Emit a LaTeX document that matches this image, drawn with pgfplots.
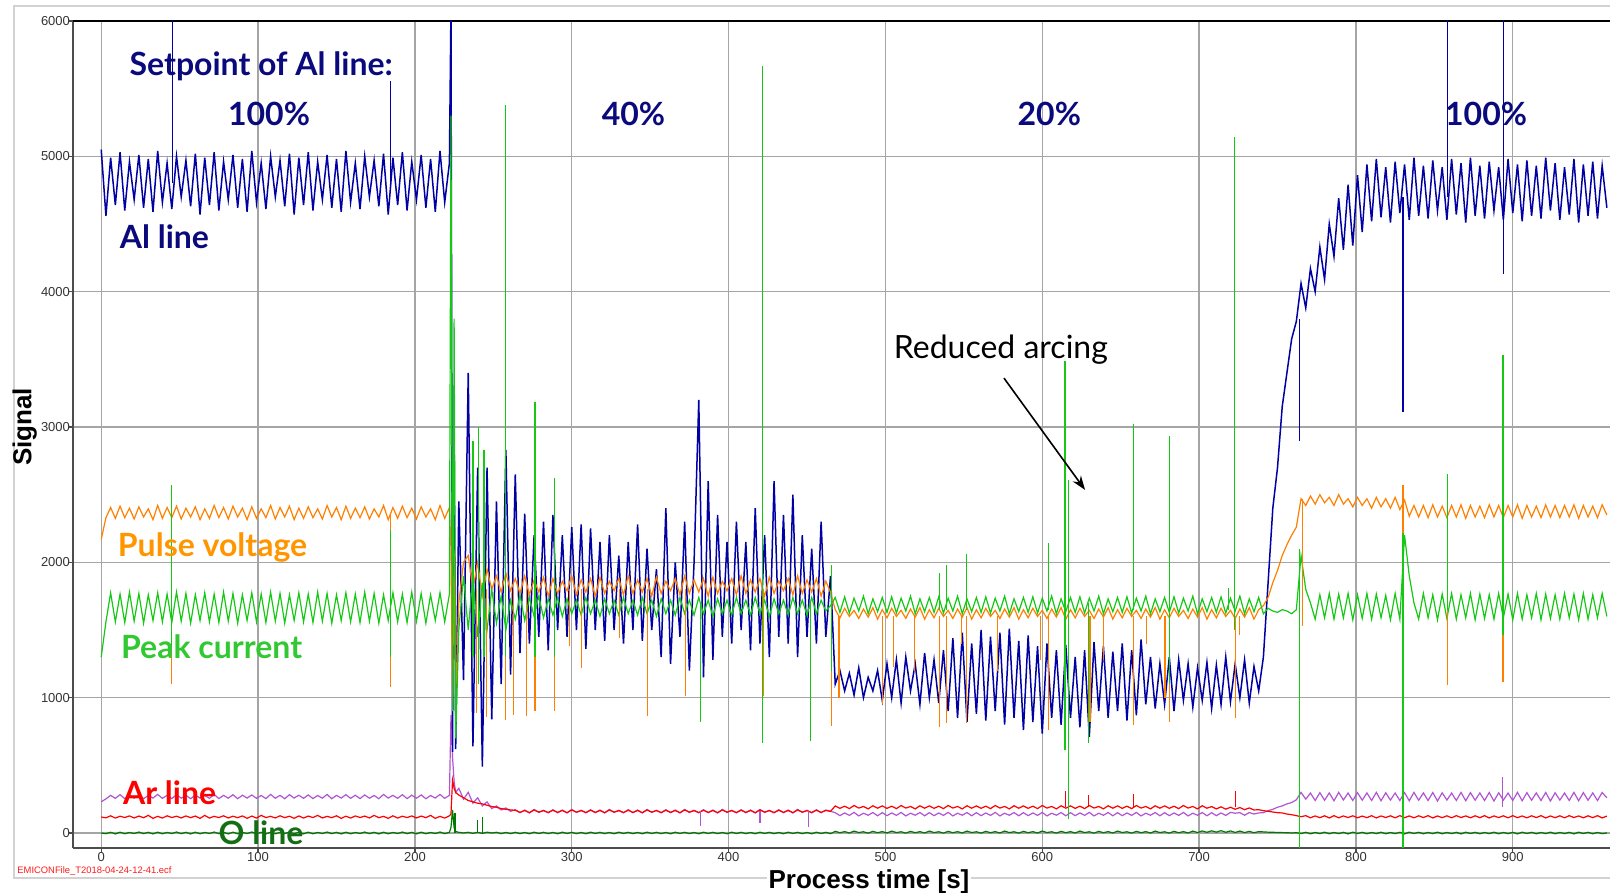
\documentclass[border=0pt]{standalone}
\usepackage{fontspec}
\setmainfont{Liberation Sans}
\newfontfamily\gill{Lato}
\usepackage{pgfplots}
\pgfplotsset{compat=1.18}
\usepackage{pgfplotstable}
\usetikzlibrary{arrows.meta}

\definecolor{alblue}{RGB}{0,0,165}
\definecolor{altext}{RGB}{10,10,125}
\definecolor{pvorange}{RGB}{255,128,0}
\definecolor{pvtext}{RGB}{255,150,0}
\definecolor{pcgreen}{RGB}{20,200,20}
\definecolor{pctext}{RGB}{50,200,50}
\definecolor{arred}{RGB}{255,0,0}
\definecolor{pupurple}{RGB}{175,85,210}
\definecolor{ogreen}{RGB}{0,120,0}
\definecolor{otext}{RGB}{20,110,20}
\definecolor{gridgray}{RGB}{165,165,165}

\pgfplotstableread{
t al pv pc ar pu ox
0 5050 2170 1300 118 230 0
3 4560 2330 1560 112 252 -5
6 4990 2405 1775 127 278 5
9 4640 2325 1560 110 256 -7
12 5030 2415 1765 124 283 6
15 4600 2330 1555 114 254 -6
18 4960 2400 1780 126 279 4
21 4680 2320 1565 111 257 -4
24 5010 2410 1770 125 281 7
27 4620 2335 1550 113 253 -5
30 4980 2395 1760 130 277 5
33 4590 2315 1570 108 258 -7
36 5040 2420 1775 123 285 6
39 4660 2325 1560 110 256 -6
42 4950 2405 1765 127 278 4
45 4610 2330 1555 114 254 -4
48 5000 2415 1780 124 283 7
51 4700 2320 1565 111 257 -5
54 4970 2400 1770 126 279 5
57 4630 2335 1550 113 253 -7
60 5020 2410 1760 125 281 6
63 4570 2315 1570 108 258 -6
66 4990 2395 1775 130 277 4
69 4640 2325 1560 110 256 -4
72 5030 2420 1765 123 285 7
75 4600 2330 1555 114 254 -5
78 4960 2405 1780 127 278 5
81 4680 2320 1565 111 257 -7
84 5010 2415 1770 124 283 6
87 4620 2335 1550 113 253 -6
90 4980 2400 1760 126 279 4
93 4590 2315 1570 108 258 -4
96 5040 2410 1775 125 281 7
99 4660 2325 1560 110 256 -5
102 4950 2395 1765 130 277 5
105 4610 2330 1555 114 254 -7
108 5000 2420 1780 123 285 6
111 4700 2320 1565 111 257 -6
114 4970 2405 1770 127 278 4
117 4630 2335 1550 113 253 -4
120 5020 2415 1760 124 283 7
123 4570 2315 1570 108 258 -5
126 4990 2400 1775 126 279 5
129 4640 2325 1560 110 256 -7
132 5030 2410 1765 125 281 6
135 4600 2330 1555 114 254 -6
138 4960 2395 1780 130 277 4
141 4680 2320 1565 111 257 -4
144 5010 2420 1770 123 285 7
147 4620 2335 1550 113 253 -5
150 4980 2405 1760 127 278 5
153 4590 2315 1570 108 258 -7
156 5040 2415 1775 124 283 6
159 4660 2325 1560 110 256 -6
162 4950 2400 1765 126 279 4
165 4610 2330 1555 114 254 -4
168 5000 2410 1780 125 281 7
171 4700 2320 1565 111 257 -5
174 4970 2395 1770 130 277 5
177 4630 2335 1550 113 253 -7
180 5020 2420 1760 123 285 6
183 4570 2315 1570 108 258 -6
186 4990 2405 1775 127 278 4
189 4640 2325 1560 110 256 -4
192 5030 2415 1765 124 283 7
195 4600 2330 1555 114 254 -5
198 4960 2400 1780 126 279 5
201 4680 2320 1565 111 257 -7
204 5010 2410 1770 125 281 6
207 4620 2335 1550 113 253 -6
210 4980 2395 1760 130 277 4
213 4590 2315 1570 108 258 -4
216 5040 2420 1775 123 285 7
219 4660 2325 1560 110 256 -5
222 4950 2405 1765 127 278 5
223 6100 2100 5300 140 870 40
224 600 950 900 391 560 170
225 3000 2090 3800 330 380 40
226 620 1000 700 300 300 10
228 2450 1700 1500 280 330 5
231 1130 2000 1900 260 250 0
234 3400 2050 1500 240 300 5
237 640 1800 1900 230 220 -3
240 2700 2000 1450 220 260 5
243 490 1750 1850 215 200 -3
246 2700 1950 1500 205 230 6
249 840 1800 1800 195 180 0
252 2450 1900 1550 190 200 5
255 1100 1780 1750 180 170 -5
258 2830 1920 1500 175 185 4
261 1170 1790 1720 170 160 -5
264 2650 1880 1580 168 172 5
267 1330 1770 1760 152 150 -5
270 2360 1900 1570 166 170 4
273 1400 1760 1740 150 148 -6
276 2200 1870 1600 170 174 6
279 1450 1780 1750 154 152 -4
282 2300 1890 1590 165 168 5
285 1350 1750 1730 151 149 -5
288 2350 1880 1610 168 172 4
291 1500 1770 1740 152 150 -6
294 2200 1860 1600 166 170 6
297 1450 1790 1730 150 148 -4
300 2260 1900 1620 170 174 5
303 1500 1760 1720 154 152 -5
306 2280 1870 1610 165 168 4
309 1360 1780 1740 151 149 -6
312 2250 1880 1620 168 172 6
315 1500 1750 1720 152 150 -4
318 2150 1890 1600 166 170 5
321 1420 1770 1730 150 148 -5
324 2200 1860 1620 170 174 4
327 1500 1790 1720 154 152 -6
330 2050 1880 1610 165 168 6
333 1400 1760 1740 151 149 -4
336 2150 1900 1620 168 172 5
339 1500 1770 1720 152 150 -5
342 2280 1870 1610 166 170 4
345 1420 1780 1740 150 148 -6
348 2100 1880 1620 170 174 6
351 1500 1750 1720 154 152 -4
354 1950 1890 1600 165 168 5
357 1300 1770 1730 151 149 -5
360 2400 1860 1620 168 172 4
363 1250 1790 1720 152 150 -6
366 2000 1880 1610 166 170 6
369 1450 1760 1740 150 148 -4
372 2300 1900 1620 170 174 5
375 1200 1770 1720 154 152 -5
378 2000 1870 1610 165 168 4
381 3200 1780 1740 151 149 -6
384 1150 1880 1620 168 172 6
387 2600 1750 1720 152 150 -4
390 1280 1890 1600 166 170 5
393 2350 1770 1730 150 148 -5
396 1450 1860 1620 170 174 4
399 2150 1790 1720 154 152 -6
402 1400 1880 1610 165 168 6
405 2300 1760 1740 151 149 -4
408 1500 1900 1620 168 172 5
411 2150 1770 1720 152 150 -5
414 1350 1870 1610 166 170 4
417 2400 1780 1740 150 148 -6
420 1400 1880 1620 170 174 6
423 2200 1750 1720 154 152 -4
426 1300 1890 1600 165 168 5
429 2600 1770 1730 151 149 -5
432 1450 1860 1620 168 172 4
435 2350 1790 1720 152 150 -6
438 1400 1880 1610 166 170 6
441 2500 1760 1740 150 148 -4
444 1300 1900 1620 170 174 5
447 2200 1770 1720 154 152 -5
450 1450 1870 1610 165 168 4
453 2100 1780 1740 151 149 -6
456 1400 1880 1620 168 172 6
459 2300 1750 1720 152 150 -4
462 1450 1860 1640 166 170 5
465 1900 1780 1680 160 160 -5
468 1100 1650 1740 200 150 12
471 1200 1590 1630 182 128 2
474 1050 1660 1745 198 148 10
477 1180 1600 1625 180 130 0
480 1020 1645 1735 203 152 14
483 1220 1585 1640 184 126 3
486 1000 1655 1750 196 146 9
489 1150 1595 1620 178 131 -1
492 1050 1665 1730 201 151 12
495 1200 1580 1635 183 127 2
498 980 1650 1740 200 150 10
501 1250 1590 1630 182 128 0
504 1000 1660 1745 198 148 14
507 1280 1600 1625 180 130 3
510 960 1645 1735 203 152 9
513 1300 1585 1640 184 126 -1
516 1050 1655 1750 196 146 12
519 1250 1595 1620 178 131 2
522 950 1665 1730 201 151 10
525 1330 1580 1635 183 127 0
528 1000 1650 1740 200 150 14
531 1280 1590 1630 182 128 3
534 960 1660 1745 198 148 9
537 1350 1600 1625 180 130 -1
540 900 1645 1735 203 152 12
543 1440 1585 1640 184 126 2
546 850 1655 1750 196 146 10
549 1480 1595 1620 178 131 0
552 820 1665 1730 201 151 14
555 1400 1580 1635 183 127 3
558 880 1650 1740 200 150 9
561 1500 1590 1630 182 128 -1
564 830 1660 1745 198 148 12
567 1450 1600 1625 180 130 2
570 900 1645 1735 203 152 10
573 1480 1585 1640 184 126 0
576 800 1655 1750 196 146 14
579 1510 1595 1620 178 131 3
582 850 1665 1730 201 151 9
585 1420 1580 1635 183 127 -1
588 760 1650 1740 200 150 12
591 1460 1590 1630 182 128 2
594 820 1660 1745 198 148 10
597 1380 1600 1625 180 130 0
600 735 1645 1735 203 152 14
603 1400 1585 1640 184 126 3
606 850 1655 1750 196 146 9
609 1350 1595 1620 178 131 -1
612 800 1665 1730 201 151 12
615 1390 1580 1635 183 127 2
618 850 1650 1740 200 150 10
621 1300 1590 1630 182 128 0
624 780 1660 1745 198 148 14
627 1350 1600 1625 180 130 3
630 710 1645 1735 203 152 9
633 1410 1585 1640 184 126 -1
636 900 1655 1750 196 146 12
639 1380 1595 1620 178 131 2
642 850 1665 1730 201 151 10
645 1340 1580 1635 183 127 0
648 900 1650 1740 200 150 14
651 1400 1590 1630 182 128 3
654 830 1660 1745 198 148 9
657 1350 1600 1625 180 130 -1
660 870 1645 1735 203 152 12
663 1430 1585 1640 184 126 2
666 950 1655 1750 196 146 10
669 1300 1595 1620 178 131 0
672 920 1665 1730 201 151 14
675 1250 1580 1635 183 127 3
678 950 1650 1740 200 150 9
681 1300 1590 1630 182 128 -1
684 900 1660 1745 198 148 12
687 1280 1600 1625 180 130 2
690 980 1645 1735 203 152 10
693 1250 1585 1640 184 126 0
696 930 1655 1750 196 146 14
699 1220 1595 1620 178 131 3
702 980 1665 1730 201 151 15
705 1260 1580 1635 183 127 5
708 920 1650 1740 195 150 16
711 1240 1590 1630 178 128 6
714 950 1660 1745 193 148 17
717 1300 1600 1625 176 130 5
720 970 1645 1735 190 152 15
723 1250 1585 1640 175 146 4
726 1000 1655 1750 188 150 14
729 1280 1595 1620 172 131 3
732 960 1665 1730 185 151 12
735 1230 1580 1635 170 140 2
738 1050 1650 1740 172 148 10
741 1300 1680 1620 165 150 8
744 1850 1740 1660 160 165 6
747 2400 1850 1640 155 175 5
750 2700 1940 1630 150 190 4
753 3150 2050 1650 148 200 3
756 3400 2130 1640 140 215 2
759 3650 2200 1620 135 225 0
762 3780 2260 1650 128 245 2
765 4060 2470 2050 120 300 -4
768 3880 2420 1800 128 250 5
771 4170 2490 1700 112 295 -6
774 4000 2430 1580 126 240 4
777 4330 2500 1760 113 298 -5
780 4090 2440 1590 127 242 6
783 4500 2480 1770 111 296 -6
786 4260 2420 1580 128 238 4
789 4690 2500 1765 112 300 -5
792 4310 2430 1590 126 244 5
795 4790 2470 1770 114 295 -7
798 4340 2410 1575 127 240 6
801 4860 2480 1760 112 298 -4
804 4440 2420 1585 125 242 5
807 4940 2470 1770 113 296 -6
810 4520 2400 1580 128 240 4
813 4980 2480 1765 111 300 -5
816 4550 2410 1590 126 238 6
819 4920 2470 1755 114 297 -6
822 4510 2400 1575 127 243 4
825 4960 2480 1770 112 295 -5
828 4580 2390 1580 128 240 5
831 4940 2460 2200 113 298 -7
834 4530 2340 1900 126 238 6
837 4990 2420 1700 112 300 -4
840 4560 2335 1580 127 242 5
843 4930 2420 1770 114 296 -6
846 4540 2330 1590 128 240 4
849 4970 2425 1760 111 299 -5
852 4600 2335 1575 126 236 6
855 4920 2415 1765 113 297 -6
858 4530 2330 1585 127 243 4
861 4980 2420 1770 112 295 -5
864 4570 2335 1580 128 240 5
867 4950 2425 1760 114 300 -7
870 4510 2325 1590 126 238 6
873 4990 2420 1770 112 298 -4
876 4560 2335 1575 127 242 5
879 4930 2415 1765 113 296 -6
882 4540 2330 1585 128 240 4
885 4960 2425 1760 111 299 -5
888 4600 2335 1580 126 236 6
891 4920 2420 1770 114 297 -6
894 4530 2330 1590 127 243 4
897 4980 2420 1765 112 295 -5
900 4580 2335 1575 128 240 5
903 4940 2425 1770 113 300 -7
906 4520 2325 1580 126 238 6
909 4970 2420 1760 112 298 -4
912 4560 2335 1590 127 242 5
915 4930 2415 1770 114 296 -6
918 4540 2330 1575 128 240 4
921 4990 2425 1765 111 299 -5
924 4600 2335 1585 126 236 6
927 4950 2420 1760 113 297 -6
930 4530 2330 1580 127 243 4
933 4920 2420 1770 112 295 -5
936 4570 2335 1590 128 240 5
939 4980 2425 1765 114 300 -7
942 4510 2325 1575 126 238 6
945 4940 2420 1770 112 298 -4
948 4560 2335 1580 127 242 5
951 4960 2415 1760 113 296 -6
954 4540 2330 1590 128 240 4
957 4930 2425 1770 111 299 -5
960 4620 2350 1600 125 260 0
}\datatable

\begin{document}
\begin{tikzpicture}
\path[use as bounding box] (-36.5pt,-22.5pt) rectangle (768.5pt,424pt);
\draw[gray!35, line width=0.8pt] (-29.5pt,-15pt) rectangle (800pt,421pt);
\begin{axis}[
  at={(0pt,0pt)}, anchor=south west,
  scale only axis, width=768.5pt, height=413.5pt,
  xmin=-18, xmax=962, ymin=-111, ymax=6000,
  xtick={0,100,...,900}, ytick={0,1000,...,6000},
  grid=major, major grid style={gridgray, line width=0.6pt},
  axis lines=left, axis line style={-, black!70, line width=0.8pt},
  tick style={black!70, line width=0.6pt}, tick align=outside, major tick length=2pt,
  ticklabel style={font=\fontsize{6.5}{7.5}\selectfont, text=black!80},
  xticklabel style={yshift=3.5pt},
  yticklabel style={xshift=4pt},
  /pgf/number format/assume math mode=true,
  /pgf/number format/set thousands separator={},
  unbounded coords=jump,
  every axis plot/.append style={line width=0.6pt},
]
\draw[black, line width=0.8pt] (rel axis cs:0,1) -- (rel axis cs:1,1);
\addplot[pupurple] table[x=t,y=pu]{\datatable};
\addplot[arred] table[x=t,y=ar]{\datatable};
\addplot[ogreen] table[x=t,y=ox]{\datatable};
\addplot[alblue, line width=0.75pt] table[x=t,y=al]{\datatable};
\addplot[pvorange] table[x=t,y=pv]{\datatable};
\addplot[pcgreen] table[x=t,y=pc]{\datatable};
% spikes
\addplot[ogreen] coordinates {(239.8,0)(239.8,96)(239.8,nan)(243,0)(243,118)(243,nan)(225.5,0)(225.5,150)};
\addplot[pupurple] coordinates {(382,160)(382,52)(382,nan)(420,160)(420,77)(420,nan)(451,160)(451,44)(451,nan)(893.7,190)(893.7,416)};
\addplot[arred] coordinates {(614.8,190)(614.8,312)(614.8,nan)(629.4,190)(629.4,280)(629.4,nan)(658,190)(658,290)(658,nan)(723,190)(723,310)};
\addplot[alblue] coordinates {(45.3,4800)(45.3,6100)(45.3,nan)(184.6,4800)(184.6,5560)(184.6,nan)(764,3800)(764,2900)(764,nan)(830,4700)(830,3112)(830,nan)(858.3,4700)(858.3,6100)(858.3,nan)(894,4130)(894,6100)};
\addplot[pvorange] coordinates {(45,2350)(45,1100)(45,nan)(184.5,2350)(184.5,1080)(184.5,nan)
 (239.5,1800)(239.5,885)(239.5,nan)(245.8,1800)(245.8,860)(245.8,nan)(258,1800)(258,835)(258,nan)
 (262.8,1800)(262.8,870)(262.8,nan)(271.3,1800)(271.3,865)(271.3,nan)(276.6,1800)(276.6,900)(276.6,nan)
 (288.9,1800)(288.9,900)(288.9,nan)(298.5,1800)(298.5,1380)(298.5,nan)(306.4,1800)(306.4,1220)(306.4,nan)
 (330.4,1800)(330.4,1440)(330.4,nan)(348.2,1800)(348.2,865)(348.2,nan)(372.7,1800)(372.7,1010)(372.7,nan)
 (422.1,1800)(422.1,1015)(422.1,nan)(465.7,1700)(465.7,790)(465.7,nan)(470.4,1600)(470.4,1000)(470.4,nan)
 (498,1600)(498,950)(498,nan)(505.4,1600)(505.4,1225)(505.4,nan)(518.6,1600)(518.6,1200)(518.6,nan)
 (534.6,1600)(534.6,780)(534.6,nan)(538.9,1600)(538.9,810)(538.9,nan)(548.4,1600)(548.4,1400)(548.4,nan)
 (551.8,1600)(551.8,815)(551.8,nan)(571.3,1600)(571.3,1200)(571.3,nan)(598.9,1600)(598.9,1280)(598.9,nan)
 (603.8,1600)(603.8,760)(603.8,nan)(630.4,1600)(630.4,820)(630.4,nan)(639,1600)(639,1280)(639,nan)
 (658,1600)(658,800)(658,nan)(666.5,1600)(666.5,1400)(666.5,nan)(678.2,1600)(678.2,1000)(678.2,nan)
 (681,1600)(681,820)(681,nan)(723,1600)(723,850)(723,nan)(726,1600)(726,1460)(726,nan)
 (766,2470)(766,1530)(766,nan)(830,2090)(830,2570)(830,nan)(858.3,2380)(858.3,1093)(858.3,nan)(893.8,2380)(893.8,1117)};
\addplot[pcgreen] coordinates {(45,1350)(45,2570)(45,nan)(184.6,1300)(184.6,2240)(184.6,nan)
 (237,1300)(237,2900)(237,nan)(240.5,1100)(240.5,3000)(240.5,nan)(244,1300)(244,2830)(244,nan)
 (258,1300)(258,5380)(258,nan)(276.6,1300)(276.6,3185)(276.6,nan)(289,1300)(289,2620)(289,nan)
 (382,1700)(382,820)(382,nan)(421.6,665)(421.6,5665)(421.6,nan)(452,1700)(452,680)(452,nan)
 (465.7,1200)(465.7,1980)(465.7,nan)(534.6,1650)(534.6,1920)(534.6,nan)(539,1650)(539,1980)(539,nan)
 (551.8,1650)(551.8,2060)(551.8,nan)(603.8,1650)(603.8,2140)(603.8,nan)(614.5,612)(614.5,3490)(614.5,nan)
 (616.6,100)(616.6,2610)(616.6,nan)(629.4,1700)(629.4,667)(629.4,nan)(658,1650)(658,3020)(658,nan)
 (681,1100)(681,2930)(681,nan)(718.7,1650)(718.7,1810)(718.7,nan)(722.5,1500)(722.5,5140)(722.5,nan)
 (764,-110)(764,2100)(764,nan)(830,-110)(830,2215)(830,nan)(858.3,1650)(858.3,2650)(858.3,nan)(893.8,1460)(893.8,3530)};
% annotations
\node[font=\gill\bfseries\fontsize{16}{18}\selectfont, text=altext] at (axis cs:102,5667) {Setpoint of Al line:};
\node[font=\gill\bfseries\fontsize{16}{18}\selectfont, text=altext] at (axis cs:107,5310) {100\%};
\node[font=\gill\bfseries\fontsize{16}{18}\selectfont, text=altext] at (axis cs:339.4,5310) {40\%};
\node[font=\gill\bfseries\fontsize{16}{18}\selectfont, text=altext] at (axis cs:604.5,5310) {20\%};
\node[font=\gill\bfseries\fontsize{16}{18}\selectfont, text=altext] at (axis cs:883,5310) {100\%};
\node[font=\gill\bfseries\fontsize{16}{18}\selectfont, text=altext] at (axis cs:40.3,4409) {Al line};
\node[font=\gill\bfseries\fontsize{16}{18}\selectfont, text=pvtext] at (axis cs:71,2110) {Pulse voltage};
\node[font=\gill\bfseries\fontsize{16}{18}\selectfont, text=pctext] at (axis cs:70.4,1374) {Peak current};
\node[font=\gill\bfseries\fontsize{16}{18}\selectfont, text=arred] at (axis cs:43.6,298) {Ar line};
\node[font=\gill\bfseries\fontsize{16}{18}\selectfont, text=otext] at (axis cs:101.9,2) {O line};
\node[font=\gill\fontsize{16}{18}\selectfont, text=black] at (axis cs:573.6,3575) {Reduced arcing};
\draw[-{Stealth[length=7pt,width=5pt]}, line width=0.8pt] (axis cs:575.6,3361) -- (axis cs:627.3,2535);
\end{axis}
\node[font=\bfseries\fontsize{13}{15}\selectfont, fill=white, inner sep=1pt] at (398pt,-17pt) {Process time [s]};
\node[font=\bfseries\fontsize{13}{15}\selectfont, rotate=90] at (-24.2pt,210.5pt) {Signal};
\node[font=\fontsize{4.7}{5.5}\selectfont, text=red!90, anchor=west, inner sep=0pt] at (-28pt,-11.5pt) {EMICONFile\_T2018-04-24-12-41.ecf};
\end{tikzpicture}
\end{document}
